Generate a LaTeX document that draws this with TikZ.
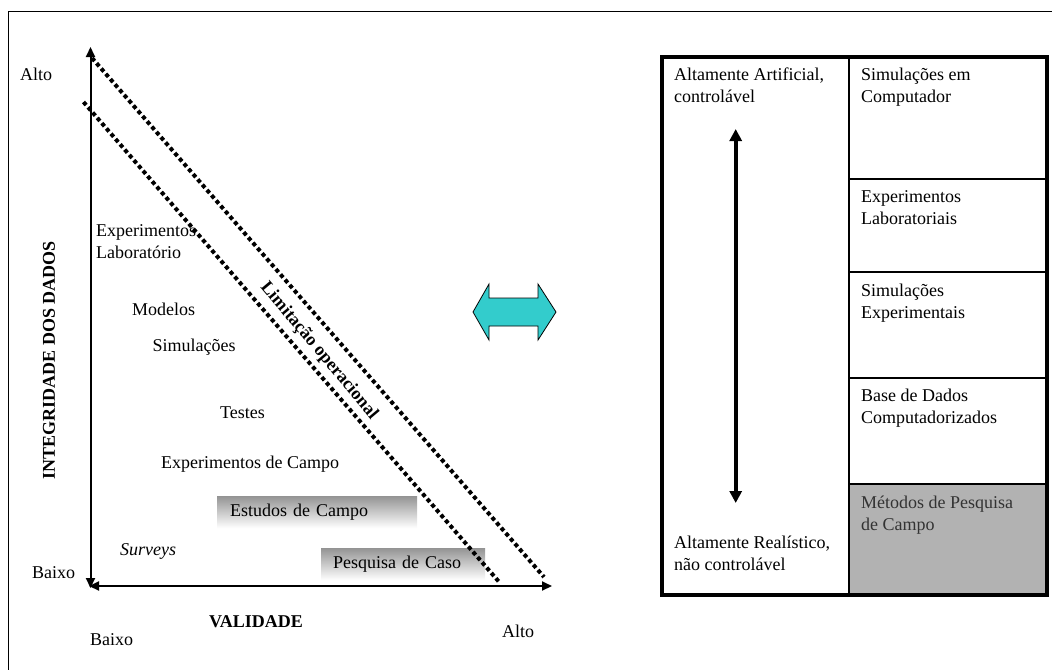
\documentclass[tikz,border=0pt]{standalone}
\usepackage{fontspec}
\setmainfont{Liberation Serif}
\usetikzlibrary{arrows.meta}
\definecolor{cyanfill}{RGB}{51,204,204}
\definecolor{cellgray}{RGB}{178,178,178}
\begin{document}
\begin{tikzpicture}[x=1pt,y=-1pt,
  lbl/.style={font=\fontsize{18}{22}\selectfont, inner sep=0pt, anchor=base west},
  mlbl/.style={font=\fontsize{18}{22}\selectfont, inner sep=0pt, anchor=north west, align=left},
  axisline/.style={line width=2pt, {Triangle[length=10pt,width=9pt]}-{Triangle[length=10pt,width=9pt]}},
  limitline/.style={line width=4pt, dash pattern=on 4pt off 3pt},
  gradbox/.style={shade, top color=black!42, bottom color=white, anchor=north west,
     font=\fontsize{18}{22}\selectfont, align=left, inner ysep=0pt},
  frameline/.style={line width=1pt},
  cellline/.style={line width=1.5pt}]
\useasboundingbox (0,0) rectangle (1052,670);

% outer frame (top and left edges)
\coordinate (fTL) at (8,11);
\coordinate (fTR) at (1052,11);
\coordinate (fBL) at (8,670);
\draw[frameline] (fTR) -- (fTL) -- (fBL);

% axes
\coordinate (yTop) at (90.5,47);
\coordinate (yBot) at (90.5,588);
\coordinate (xLeft) at (89,586);
\coordinate (xRight) at (552,586);
\draw[axisline] (yBot) -- (yTop);
\draw[axisline] (xLeft) -- (xRight);

% gradient boxes
\node[gradbox, minimum width=200pt, minimum height=32pt, text width=174pt, inner xsep=13pt] (estudos) at (217,496) {Estudos de Campo};
\node[gradbox, minimum width=164pt, minimum height=32pt, text width=140pt, inner xsep=12pt] (pesquisa) at (321,548) {Pesquisa de Caso};

% limitation lines
\coordinate (oA) at (92,58);
\coordinate (oB) at (544,577);
\coordinate (iA) at (83.5,102);
\coordinate (iB) at (500,583);
\draw[limitline] (oA) -- (oB);
\draw[limitline] (iA) -- (iB);
\node[font=\fontsize{18}{22}\selectfont\bfseries, inner sep=0pt, rotate=-50] (limit) at (319,351) {Limitação operacional};

% left-side labels
\node[lbl] (altoY) at (20,80) {Alto};
\node[lbl] (baixoY) at (32,578) {Baixo};
\node[lbl] (baixoX) at (90,645) {Baixo};
\node[lbl] (altoX) at (502,637) {Alto};
\node[lbl, font=\fontsize{18}{22}\selectfont\bfseries] (validade) at (209,627) {VALIDADE};
\node[font=\fontsize{18}{22}\selectfont\bfseries, inner sep=0pt, rotate=90] (integ) at (49,360) {INTEGRIDADE DOS DADOS};
\node[mlbl] (explab) at (96,224) {Experimentos\\Laboratório};
\node[lbl] (modelos) at (132,315) {Modelos};
\node[lbl] (simul) at (152.5,351) {Simulações};
\node[lbl] (testes) at (220,418) {Testes};
\node[lbl] (expcampo) at (161,468) {Experimentos de Campo};
\node[lbl, font=\fontsize{18}{22}\selectfont\itshape] (surveys) at (120,555) {Surveys};

% cyan double arrow
\draw[line width=0.8pt, fill=cyanfill] (473,312) -- (489,284) -- (489,298) -- (538,298) -- (538,284)
  -- (556,312) -- (538,340) -- (538,326) -- (489,326) -- (489,340) -- cycle;

% right table
\fill[cellgray] (849,484) rectangle (1045,595);
\coordinate (dTop) at (849,57);
\coordinate (dBot) at (849,595);
\draw[cellline] (dTop) -- (dBot);
\foreach \yy in {179,272,378,484} \draw[cellline] (849,\yy) -- (1045,\yy);
\draw[line width=4pt] (662,57) rectangle (1047,595);

\coordinate (aTop) at (735.7,129);
\coordinate (aBot) at (735.7,503);
\draw[line width=4pt, {Triangle[length=12pt,width=12pt]}-{Triangle[length=12pt,width=12pt]}] (aBot) -- (aTop);

\node[mlbl] (artif) at (674,68) {Altamente Artificial,\\controlável};
\node[mlbl] (realis) at (674,536) {Altamente Realístico,\\não controlável};
\node[mlbl] (simcomp) at (861,68) {Simulações em\\Computador};
\node[mlbl] (explabs) at (861,190.5) {Experimentos\\Laboratoriais};
\node[mlbl] (simexp) at (861,284) {Simulações\\Experimentais};
\node[mlbl] (base) at (861,389) {Base de Dados\\Computadorizados};
\node[mlbl, text=black!80] (metodos) at (861,496) {Métodos de Pesquisa\\de Campo};
\end{tikzpicture}
\end{document}
